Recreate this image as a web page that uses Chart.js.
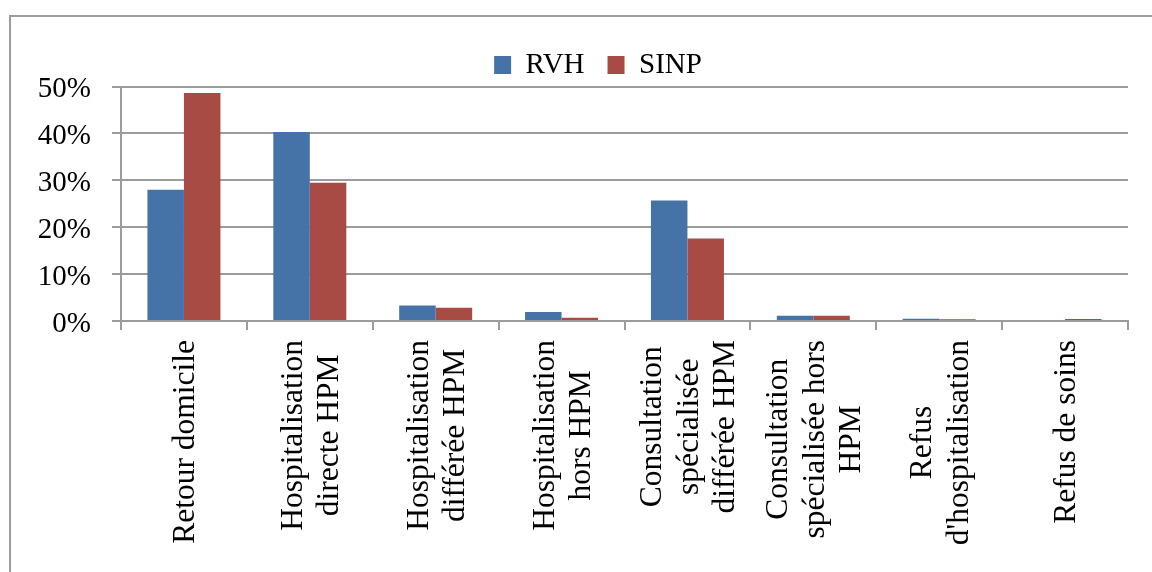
<!DOCTYPE html>
<html>
<head>
<meta charset="utf-8">
<script src="https://cdn.jsdelivr.net/npm/chart.js@4"></script>
<style>
  html, body { margin: 0; padding: 0; background: #fff; }
  #wrap { position: relative; width: 1152px; height: 572px; overflow: hidden; }
  #frame { position: absolute; left: 9px; top: 15px; width: 1300px; height: 700px; border: 2px solid #9c9c9c; box-sizing: border-box; pointer-events: none; }
  canvas { position: absolute; left: 0; top: 0; }
</style>
</head>
<body>
<div id="wrap">
  <canvas id="c" width="1152" height="572"></canvas>
  <div id="frame"></div>
</div>
<script>
const categories = [
  ["Retour domicile"],
  ["Hospitalisation", "directe HPM"],
  ["Hospitalisation", "différée HPM"],
  ["Hospitalisation", "hors HPM"],
  ["Consultation", "spécialisée", "différée HPM"],
  ["Consultation", "spécialisée hors", "HPM"],
  ["Refus", "d'hospitalisation"],
  ["Refus de soins"]
];
const rvh  = [28.0, 40.3, 3.3, 1.9, 25.7, 1.1, 0.5, 0.2];
const sinp = [48.6, 29.5, 2.85, 0.7, 17.6, 1.1, 0.35, 0.4];
const yTickLabels = ["0%", "10%", "20%", "30%", "40%", "50%"];

const SERIF = '"Liberation Serif", "Times New Roman", serif';
const GRID = '#9c9c9c';

const legendPatch = {
  id: 'legendPatch',
  beforeLayout(chart) {
    const lg = chart.legend;
    if (lg && !lg._patched) {
      const orig = lg.fit.bind(lg);
      lg.fit = function () { orig(); this.height = 59; };
      lg._patched = true;
    }
  },
  afterLayout(chart) {
    const lg = chart.legend;
    if (lg) { lg.left = 68; }
  }
};

const xLabelPlugin = {
  id: 'xLabelPlugin',
  afterDraw(chart) {
    const ctx = chart.ctx;
    const xs = chart.scales.x;
    const top = chart.chartArea.bottom + 19;
    const lineH = 36.5;
    ctx.save();
    ctx.font = '31.5px ' + SERIF;
    ctx.fillStyle = '#000';
    ctx.textAlign = 'center';
    ctx.textBaseline = 'middle';
    categories.forEach((lines, i) => {
      const cx = xs.getPixelForValue(i) + 2;
      let w = 0;
      lines.forEach(l => { w = Math.max(w, ctx.measureText(l).width); });
      const cy = top + w / 2;
      lines.forEach((l, j) => {
        const x = cx + (j - (lines.length - 1) / 2) * lineH;
        ctx.save();
        ctx.translate(x, cy);
        ctx.rotate(-Math.PI / 2);
        ctx.fillText(l, 0, 0);
        ctx.restore();
      });
    });
    ctx.restore();
  }
};

new Chart(document.getElementById('c'), {
  type: 'bar',
  data: {
    labels: categories.map(c => c.join(' ')),
    datasets: [
      { label: 'RVH', data: rvh, backgroundColor: '#4573A7', borderWidth: 0 },
      { label: 'SINP', data: sinp, backgroundColor: '#A84B44', borderWidth: 0 }
    ]
  },
  options: {
    responsive: false,
    animation: false,
    devicePixelRatio: 1,
    layout: { padding: { left: 0, right: 24, top: 27.5, bottom: 11 } },
    datasets: { bar: { barPercentage: 1, categoryPercentage: 0.58 } },
    plugins: {
      legend: {
        position: 'top',
        align: 'center',
        labels: {
          font: { family: SERIF, size: 29 },
          color: '#000',
          boxWidth: 17,
          boxHeight: 18,
          padding: 23
        }
      },
      tooltip: { enabled: false }
    },
    scales: {
      x: {
        offset: true,
        ticks: { display: false },
        grid: { display: true, drawOnChartArea: false, drawTicks: true, tickLength: 9, color: GRID, lineWidth: 2, offset: true },
        border: { display: true, color: GRID, width: 2 },
        afterFit(s) { s.height = 240; }
      },
      y: {
        min: 0,
        max: 50,
        ticks: {
          stepSize: 10,
          font: { family: SERIF, size: 29 },
          color: '#000',
          padding: 21,
          labelOffset: 3,
          callback: (v, i) => yTickLabels[i]
        },
        grid: { color: GRID, lineWidth: 2, tickLength: 9, drawTicks: true },
        border: { display: true, color: GRID, width: 2 },
        afterFit(s) { s.width = 121; }
      }
    }
  },
  plugins: [legendPatch, xLabelPlugin]
});
</script>
</body>
</html>
